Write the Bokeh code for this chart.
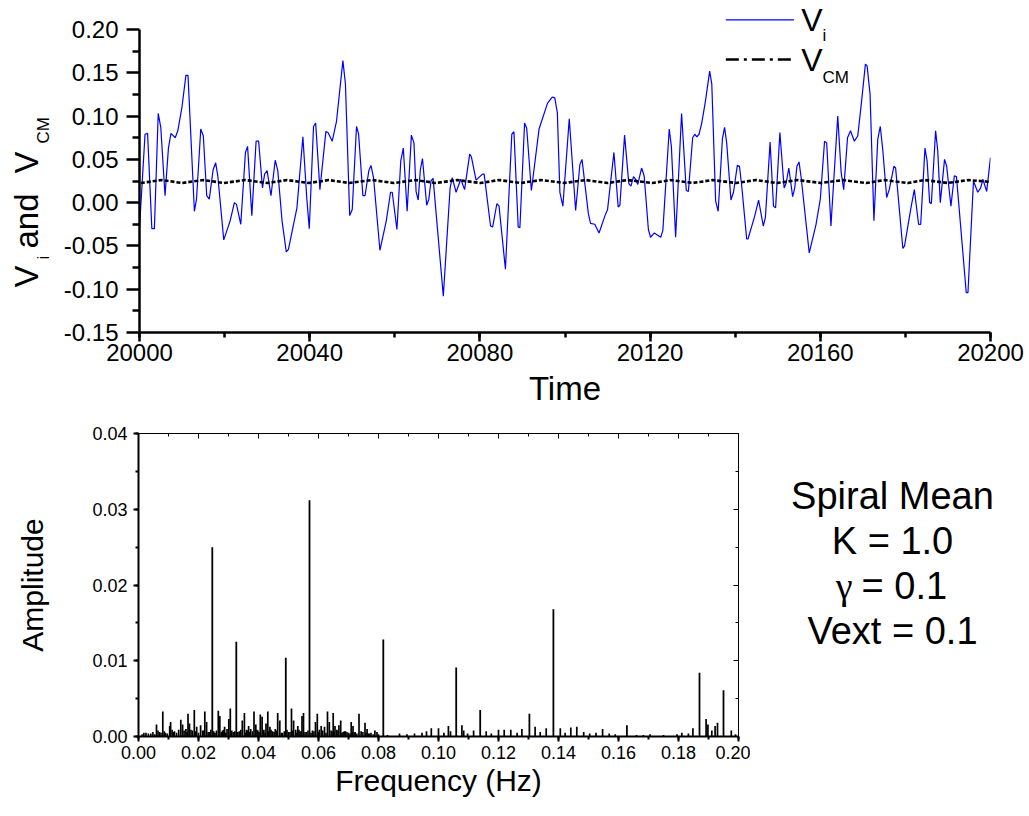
import numpy as np
from bokeh.plotting import figure
from bokeh.layouts import row
from bokeh.models import (Range1d, SingleIntervalTicker, FixedTicker, NumeralTickFormatter,
                          LinearAxis, ColumnDataSource)
from bokeh.core.properties import value
from bokeh.embed import file_html
from bokeh.resources import INLINE

FONT = "Liberation Sans"
SERIF = "Liberation Serif"

# ---------------- data: time series ----------------
TIME = [20000.0, 20001.3, 20001.9, 20002.9, 20003.5, 20004.4, 20005.0, 20006.0, 20006.8, 20007.4,
        20008.4, 20009.0, 20010.0, 20010.9, 20011.4, 20012.9, 20013.4, 20014.4, 20015.0, 20015.8,
        20016.4, 20017.3, 20017.9, 20018.4, 20019.8, 20021.3, 20022.3, 20022.8, 20023.8, 20024.9,
        20025.4, 20026.4, 20027.4, 20028.0, 20028.9, 20029.4, 20030.0, 20030.9, 20031.9, 20032.5,
        20033.5, 20034.5, 20035.0, 20037.0, 20038.4, 20039.3, 20039.9, 20040.9, 20041.4, 20042.4,
        20043.8, 20044.3, 20045.3, 20046.3, 20047.8, 20048.4, 20049.4, 20050.0, 20051.0, 20051.5,
        20052.5, 20053.0, 20053.9, 20054.4, 20055.0, 20056.5, 20058.0, 20059.0, 20059.4, 20060.5,
        20061.4, 20062.0, 20062.9, 20063.9, 20064.5, 20065.0, 20065.5, 20066.0, 20066.5, 20067.5,
        20068.0, 20068.5, 20069.0, 20071.4, 20073.0, 20073.5, 20074.4, 20075.5, 20076.4, 20077.6,
        20078.0, 20079.1, 20080.6, 20081.0, 20082.5, 20083.0, 20084.0, 20084.5, 20086.0, 20087.5,
        20088.0, 20089.0, 20089.4, 20090.5, 20091.0, 20092.1, 20093.9, 20095.9, 20097.0, 20097.6,
        20098.2, 20098.8, 20099.5, 20101.0, 20102.5, 20103.5, 20104.0, 20105.5, 20106.0, 20107.0,
        20108.0, 20109.4, 20110.0, 20111.5, 20112.5, 20112.9, 20114.0, 20115.0, 20115.5, 20116.1,
        20116.6, 20117.1, 20118.0, 20118.6, 20119.6, 20120.1, 20121.0, 20121.6, 20122.5, 20123.0,
        20124.5, 20125.0, 20126.0, 20127.4, 20128.5, 20129.0, 20130.0, 20130.5, 20131.0, 20131.5,
        20132.1, 20133.0, 20134.0, 20134.5, 20135.4, 20136.0, 20137.0, 20137.5, 20138.0, 20139.0,
        20139.6, 20140.5, 20141.0, 20141.5, 20142.7, 20143.0, 20144.5, 20145.5, 20146.6, 20147.1,
        20148.2, 20149.0, 20149.5, 20150.5, 20151.5, 20152.0, 20152.6, 20153.5, 20154.0, 20154.5,
        20155.0, 20155.5, 20157.4, 20159.0, 20160.0, 20161.0, 20161.5, 20162.5, 20164.1, 20164.9,
        20165.5, 20166.4, 20167.1, 20168.0, 20168.8, 20169.7, 20170.6, 20171.0, 20171.7, 20172.6,
        20173.5, 20174.1, 20174.7, 20175.6, 20176.2, 20177.3, 20177.7, 20178.2, 20179.4, 20179.8,
        20181.3, 20182.1, 20183.1, 20183.6, 20184.6, 20185.1, 20185.7, 20186.1, 20187.1, 20187.6,
        20188.2, 20189.2, 20189.7, 20190.7, 20191.5, 20192.0, 20194.3, 20194.7, 20196.0, 20197.0,
        20197.7, 20198.2, 20199.1, 20200.0]
V_I = [-0.029, 0.079, 0.080, -0.030, -0.030, 0.103, 0.087, 0.008, 0.063, 0.080,
       0.075, 0.083, 0.111, 0.147, 0.147, -0.010, 0.004, 0.085, 0.077, 0.008,
       0.004, 0.038, 0.046, 0.031, -0.043, -0.021, 0.000, -0.002, -0.025, 0.058,
       0.065, -0.015, 0.071, 0.071, 0.017, 0.033, 0.037, 0.008, 0.049, 0.037,
       -0.021, -0.057, -0.054, -0.006, 0.076, 0.006, -0.030, 0.088, 0.092, 0.015,
       0.082, 0.081, 0.071, 0.094, 0.164, 0.137, -0.015, -0.008, 0.088, 0.079,
       0.008, 0.008, 0.037, 0.043, 0.029, -0.055, -0.021, 0.012, 0.012, -0.031,
       0.048, 0.063, -0.010, 0.078, 0.069, 0.013, 0.003, 0.038, 0.051, -0.003,
       0.004, 0.025, 0.028, -0.108, 0.017, 0.029, 0.012, 0.027, 0.015, 0.056,
       0.053, 0.026, 0.033, 0.033, -0.027, -0.028, -0.001, -0.004, -0.077, 0.079,
       0.082, -0.028, -0.029, 0.092, 0.086, 0.014, 0.085, 0.115, 0.122, 0.121,
       0.104, 0.012, -0.004, 0.097, -0.009, 0.044, 0.050, -0.013, -0.024, -0.025,
       -0.035, -0.015, -0.008, 0.058, -0.005, -0.003, 0.078, 0.022, 0.019, 0.030,
       0.027, 0.021, 0.040, 0.031, -0.031, -0.040, -0.035, -0.037, -0.040, -0.032,
       0.085, 0.065, -0.040, 0.103, 0.014, 0.013, 0.075, 0.079, 0.076, 0.079,
       0.091, 0.117, 0.152, 0.137, 0.002, -0.010, 0.074, 0.087, 0.069, 0.003,
       0.012, 0.043, 0.042, 0.021, -0.042, -0.042, -0.017, 0.003, -0.027, -0.017,
       0.070, -0.004, -0.006, 0.081, 0.017, 0.023, 0.040, 0.007, 0.017, 0.042,
       0.047, 0.029, -0.058, -0.025, 0.004, 0.071, 0.069, -0.027, 0.100, 0.035,
       0.015, 0.075, 0.083, 0.071, 0.077, 0.117, 0.160, 0.158, 0.125, -0.021,
       0.073, 0.088, 0.060, 0.006, 0.015, 0.042, 0.040, 0.013, -0.053, -0.050,
       -0.006, 0.015, -0.025, -0.025, 0.063, 0.048, 0.000, -0.001, 0.083, 0.060,
       0.000, 0.050, 0.042, -0.004, 0.031, 0.030, -0.104, -0.104, 0.025, 0.012,
       0.017, 0.027, 0.013, 0.052]

T_CM = [20000.3, 20005.2, 20010.0, 20015.0, 20019.8, 20024.9, 20030.0, 20034.7, 20039.8, 20044.5,
        20049.3, 20054.7, 20059.8, 20064.9, 20069.6, 20074.7, 20080.2, 20084.5, 20089.6, 20094.3,
        20099.8, 20104.9, 20110.0, 20114.7, 20120.5, 20124.9, 20130.0, 20134.7, 20140.2, 20144.9,
        20149.8, 20154.7, 20160.2, 20165.3, 20170.8, 20175.1, 20180.6, 20184.5, 20190.0, 20194.7,
        20200.0]
V_CM = [0.0227, 0.0261, 0.0227, 0.0261, 0.0227, 0.0261, 0.0227, 0.0261, 0.0227, 0.0261,
        0.0227, 0.0261, 0.0227, 0.0261, 0.0227, 0.0261, 0.0227, 0.0261, 0.0227, 0.0261,
        0.0227, 0.0261, 0.0227, 0.0261, 0.0227, 0.0261, 0.0227, 0.0261, 0.0227, 0.0261,
        0.0227, 0.0261, 0.0227, 0.0261, 0.0227, 0.0261, 0.0227, 0.0261, 0.0227, 0.0261,
        0.0240]

Y_TICKS = [-0.15, -0.10, -0.05, 0.00, 0.05, 0.10, 0.15, 0.20]
Y_MINOR = [-0.125, -0.075, -0.025, 0.025, 0.075, 0.125, 0.175]

# ---------------- data: spectrum ----------------
PEAK_FREQ = [0.0246, 0.0326, 0.0491, 0.0570, 0.0816, 0.1059, 0.1139, 0.1303, 0.1383, 0.1628,
             0.1870, 0.1950]
PEAK_AMP = [0.0250, 0.0125, 0.0104, 0.0312, 0.0128, 0.0091, 0.0035, 0.0030, 0.0168, 0.0015,
            0.0084, 0.0061]
NOISE_FREQ = [0.0025, 0.0041, 0.0060, 0.0070, 0.0081, 0.0090, 0.0104, 0.0107, 0.0120, 0.0134,
              0.0141, 0.0147, 0.0158, 0.0165, 0.0170, 0.0180, 0.0186, 0.0194, 0.0207, 0.0214,
              0.0221, 0.0227, 0.0236, 0.0255, 0.0266, 0.0271, 0.0280, 0.0287, 0.0295, 0.0301,
              0.0306, 0.0316, 0.0336, 0.0346, 0.0353, 0.0360, 0.0367, 0.0374, 0.0385, 0.0391,
              0.0398, 0.0406, 0.0412, 0.0418, 0.0425, 0.0431, 0.0438, 0.0447, 0.0456, 0.0464,
              0.0471, 0.0480, 0.0500, 0.0510, 0.0517, 0.0524, 0.0531, 0.0538, 0.0545, 0.0550,
              0.0560, 0.0580, 0.0590, 0.0596, 0.0603, 0.0609, 0.0620, 0.0630, 0.0636, 0.0642,
              0.0649, 0.0655, 0.0661, 0.0668, 0.0674, 0.0682, 0.0690, 0.0700, 0.0709, 0.0715,
              0.0722, 0.0735, 0.0742, 0.0755, 0.0762, 0.0770, 0.0788, 0.0795, 0.0830, 0.0870,
              0.0895, 0.0920, 0.0945, 0.0960, 0.0976, 0.1000, 0.1018, 0.1033, 0.1040, 0.1078,
              0.1084, 0.1097, 0.1117, 0.1159, 0.1176, 0.1200, 0.1219, 0.1241, 0.1262, 0.1278,
              0.1322, 0.1339, 0.1359, 0.1406, 0.1422, 0.1441, 0.1461, 0.1484, 0.1504, 0.1525,
              0.1547, 0.1569, 0.1589, 0.1660, 0.1683, 0.1705, 0.1750, 0.1795, 0.1811, 0.1833,
              0.1848, 0.1892, 0.1898, 0.1911, 0.1922, 0.1930, 0.1976, 0.1990]
NOISE_AMP = [0.0005, 0.0004, 0.0016, 0.0006, 0.0033, 0.0005, 0.0014, 0.0019, 0.0007, 0.0009,
             0.0022, 0.0016, 0.0010, 0.0030, 0.0017, 0.0008, 0.0035, 0.0013, 0.0015, 0.0008,
             0.0033, 0.0019, 0.0006, 0.0005, 0.0034, 0.0027, 0.0008, 0.0013, 0.0010, 0.0023,
             0.0037, 0.0006, 0.0007, 0.0021, 0.0031, 0.0009, 0.0014, 0.0010, 0.0033, 0.0016,
             0.0008, 0.0029, 0.0026, 0.0009, 0.0017, 0.0033, 0.0013, 0.0007, 0.0010, 0.0031,
             0.0021, 0.0005, 0.0006, 0.0037, 0.0021, 0.0009, 0.0014, 0.0007, 0.0027, 0.0031,
             0.0006, 0.0008, 0.0019, 0.0030, 0.0009, 0.0014, 0.0013, 0.0033, 0.0019, 0.0008,
             0.0031, 0.0014, 0.0009, 0.0015, 0.0021, 0.0006, 0.0007, 0.0005, 0.0019, 0.0014,
             0.0006, 0.0030, 0.0007, 0.0018, 0.0010, 0.0004, 0.0008, 0.0006, 0.0002, 0.0004,
             0.0003, 0.0004, 0.0005, 0.0007, 0.0011, 0.0011, 0.0005, 0.0014, 0.0007, 0.0015,
             0.0008, 0.0004, 0.0008, 0.0007, 0.0004, 0.0009, 0.0009, 0.0009, 0.0005, 0.0010,
             0.0013, 0.0006, 0.0011, 0.0011, 0.0005, 0.0012, 0.0013, 0.0006, 0.0004, 0.0005,
             0.0010, 0.0004, 0.0003, 0.0002, 0.0002, 0.0003, 0.0002, 0.0003, 0.0005, 0.0004,
             0.0011, 0.0023, 0.0016, 0.0008, 0.0014, 0.0018, 0.0008, 0.0003]
# dense low-level floor below 0.08 Hz
FLOOR_FREQ = [0.0012, 0.0018, 0.0033, 0.0048, 0.0054, 0.0065, 0.0075, 0.0086, 0.0096, 0.0112,
              0.0116, 0.0127, 0.0152, 0.0162, 0.0175, 0.0190, 0.0200, 0.0218, 0.0232, 0.0241,
              0.0251, 0.0260, 0.0276, 0.0284, 0.0291, 0.0311, 0.0321, 0.0331, 0.0341, 0.0357,
              0.0364, 0.0371, 0.0380, 0.0395, 0.0402, 0.0415, 0.0422, 0.0434, 0.0442, 0.0452,
              0.0460, 0.0476, 0.0486, 0.0495, 0.0505, 0.0513, 0.0527, 0.0535, 0.0542, 0.0555,
              0.0565, 0.0575, 0.0585, 0.0600, 0.0614, 0.0625, 0.0645, 0.0652, 0.0665, 0.0678,
              0.0686, 0.0695, 0.0705, 0.0712, 0.0719, 0.0728, 0.0748, 0.0758, 0.0766, 0.0775,
              0.0782, 0.0800]
FLOOR_AMP = [0.0003, 0.0005, 0.0004, 0.0006, 0.0003, 0.0008, 0.0005, 0.0007, 0.0004, 0.0009,
             0.0006, 0.0005, 0.0008, 0.0006, 0.0009, 0.0007, 0.0005, 0.0008, 0.0006, 0.0009,
             0.0007, 0.0008, 0.0006, 0.0009, 0.0005, 0.0008, 0.0007, 0.0006, 0.0009, 0.0005,
             0.0008, 0.0006, 0.0007, 0.0009, 0.0006, 0.0008, 0.0005, 0.0007, 0.0009, 0.0006,
             0.0008, 0.0005, 0.0007, 0.0009, 0.0006, 0.0008, 0.0005, 0.0009, 0.0007, 0.0006,
             0.0008, 0.0005, 0.0007, 0.0006, 0.0008, 0.0005, 0.0007, 0.0006, 0.0008, 0.0005,
             0.0007, 0.0006, 0.0004, 0.0006, 0.0005, 0.0004, 0.0006, 0.0005, 0.0004, 0.0005,
             0.0003, 0.0003]

ANNOT_LINES = ["Spiral Mean", "K = 1.0", "\u03b3 = 0.1", "Vext = 0.1"]
GAMMA_ROW = 2   # the line whose leading symbol is drawn in a serif face


# ---------------- styling helpers ----------------
def style_axis(ax, font_size, line_w, tick_out, minor_out, standoff):
    ax.axis_line_width = line_w
    ax.axis_line_color = "black"
    ax.major_tick_line_width = line_w
    ax.minor_tick_line_width = line_w
    ax.major_tick_line_color = "black"
    ax.minor_tick_line_color = "black"
    ax.major_tick_out = tick_out
    ax.major_tick_in = 0
    ax.minor_tick_out = minor_out
    ax.minor_tick_in = 0
    ax.major_label_text_font = FONT
    ax.major_label_text_font_size = font_size
    ax.major_label_text_color = "black"
    ax.major_label_standoff = standoff
    ax.axis_label_text_font = FONT
    ax.axis_label_text_font_style = "normal"
    ax.axis_label_text_color = "black"


def text_panel(width, height, b_top, b_bottom, x0, y_top, y_bottom):
    """Axis-less panel whose data coordinates equal page pixels."""
    p = figure(width=width, height=height, x_range=Range1d(x0, x0 + width),
               y_range=Range1d(y_bottom, y_top), x_axis_type=None, y_axis_type=None,
               output_backend="svg", toolbar_location=None,
               min_border_left=0, min_border_right=0,
               min_border_top=b_top, min_border_bottom=b_bottom)
    p.outline_line_color = None
    return p


TOP_H, BOT_H = 413, 403
LAB_W = 58
TOP_BB = 81          # bottom border of the top plot
BOT_BT, BOT_BB = 20, 80

# ---------------- top: y-axis title panel ----------------
lab = text_panel(LAB_W, TOP_H, 0, TOP_BB, 0, 0, TOP_H - TOP_BB)
lab.text(x=[26, 26, 26], y=[287, 248, 173], text=["V", "and", "V"], angle=np.pi / 2,
         text_font=value(FONT), text_font_size="33px", text_align="left",
         text_baseline="alphabetic", text_color="black")
lab.text(x=[43, 43], y=[259, 143], text=["i", "CM"], angle=np.pi / 2,
         text_font=value(FONT), text_font_size="17px", text_align="left",
         text_baseline="alphabetic", text_color="black")

# ---------------- top: time series ----------------
top = figure(width=1029 - LAB_W, height=TOP_H, x_range=Range1d(20000, 20200),
             y_range=Range1d(-0.15, 0.2335), output_backend="svg", toolbar_location=None,
             min_border_left=81, min_border_right=39, min_border_top=0,
             min_border_bottom=TOP_BB)
top.outline_line_color = None
top.grid.visible = False
top.xaxis.ticker = SingleIntervalTicker(interval=40, num_minor_ticks=2)
top.yaxis.ticker = FixedTicker(ticks=Y_TICKS, minor_ticks=Y_MINOR)
top.xaxis.formatter = NumeralTickFormatter(format="0")
top.yaxis.formatter = NumeralTickFormatter(format="0.00")
top.yaxis.bounds = (Y_TICKS[0], Y_TICKS[-1])
style_axis(top.xaxis[0], "24px", 2.5, 9, 5, 2)
style_axis(top.yaxis[0], "24px", 2.5, 13, 7, 8)
top.xaxis.axis_label = "Time"
top.xaxis.axis_label_text_font_size = "33px"
top.xaxis.axis_label_standoff = 6

src_vi = ColumnDataSource(dict(t=TIME, v=V_I))
src_cm = ColumnDataSource(dict(t=T_CM, v=V_CM))
top.line("t", "v", source=src_vi, line_color="#0000ff", line_width=1.2)
top.line("t", "v", source=src_cm, line_color="black", line_width=2.6, line_dash="4 2")

# hand-drawn legend (sits above the end of the y axis)
LEG_X0, LEG_X1, LEG_TX, LEG_SX = 20137.8, 20153.8, 20155.5, 20160.5
top.line([LEG_X0, LEG_X1], [0.2112, 0.2112], line_color="#0000ff", line_width=1.2)
top.line([LEG_X0, LEG_X1], [0.1653, 0.1653], line_color="black", line_width=2.6,
         line_dash="13 5 3 5")
top.text(x=[LEG_TX, LEG_TX], y=[0.2112, 0.1650], text=["V", "V"], text_font=value(FONT),
         text_font_size="32px", text_align="left", text_baseline="alphabetic",
         text_color="black")
top.text(x=[LEG_SX, LEG_SX], y=[0.1926, 0.1441], text=["i", "CM"], text_font=value(FONT),
         text_font_size="17px", text_align="left", text_baseline="alphabetic",
         text_color="black")

# ---------------- bottom: spectrum ----------------
BOT_W = 750
bot = figure(width=BOT_W, height=BOT_H, x_range=Range1d(0, 0.2), y_range=Range1d(0, 0.04),
             output_backend="svg", toolbar_location=None,
             min_border_left=138, min_border_right=12, min_border_top=BOT_BT,
             min_border_bottom=BOT_BB)
bot.grid.visible = False
bot.outline_line_color = None
bot.xaxis.ticker = SingleIntervalTicker(interval=0.02, num_minor_ticks=2)
bot.yaxis.ticker = SingleIntervalTicker(interval=0.01, num_minor_ticks=2)
bot.xaxis.formatter = NumeralTickFormatter(format="0.00")
bot.yaxis.formatter = NumeralTickFormatter(format="0.00")
style_axis(bot.xaxis[0], "18px", 2, 5, 3, 4)
style_axis(bot.yaxis[0], "18px", 2, 5, 3, 6)
bot.xaxis.axis_label = "Frequency (Hz)"
bot.yaxis.axis_label = "Amplitude"
bot.xaxis.axis_label_text_font_size = "30px"
bot.yaxis.axis_label_text_font_size = "30px"
bot.xaxis.axis_label_standoff = 2
bot.yaxis.axis_label_standoff = 40

for side, tick in (("above", SingleIntervalTicker(interval=0.02, num_minor_ticks=2)),
                   ("right", SingleIntervalTicker(interval=0.01, num_minor_ticks=2))):
    ax = LinearAxis(ticker=tick)
    ax.axis_line_width = 1
    ax.major_tick_line_width = 1
    ax.minor_tick_line_width = 1
    ax.major_tick_in = 5
    ax.major_tick_out = 0
    ax.minor_tick_in = 3
    ax.minor_tick_out = 0
    ax.major_label_text_font_size = "0px"
    ax.major_label_text_color = None
    ax.major_label_standoff = 0
    bot.add_layout(ax, side)

src_floor = ColumnDataSource(dict(f=FLOOR_FREQ, a=FLOOR_AMP))
src_noise = ColumnDataSource(dict(f=NOISE_FREQ, a=NOISE_AMP))
src_peak = ColumnDataSource(dict(f=PEAK_FREQ, a=PEAK_AMP))
bot.segment(x0="f", y0=0, x1="f", y1="a", source=src_floor, line_color="black", line_width=1.6)
bot.segment(x0="f", y0=0, x1="f", y1="a", source=src_noise, line_color="black", line_width=1.7)
bot.segment(x0="f", y0=0, x1="f", y1="a", source=src_peak, line_color="black", line_width=1.8)

# ---------------- bottom right: parameter block ----------------
txt = text_panel(1029 - BOT_W, BOT_H, BOT_BT, BOT_BB, BOT_W, TOP_H + BOT_BT, TOP_H + BOT_H - BOT_BB)
ANNOT_X, ANNOT_Y0, ANNOT_DY = 892, 495, 45
plain = [i for i in range(len(ANNOT_LINES)) if i != GAMMA_ROW]
txt.text(x=[ANNOT_X] * len(plain), y=[ANNOT_Y0 + i * ANNOT_DY for i in plain],
         text=[ANNOT_LINES[i] for i in plain], text_font=value(FONT), text_font_size="38px",
         text_align="center", text_baseline="alphabetic", text_color="black")
sym, rest = ANNOT_LINES[GAMMA_ROW].split(" ", 1)
gy = ANNOT_Y0 + GAMMA_ROW * ANNOT_DY
txt.text(x=[852], y=[gy], text=[sym], text_font=value(SERIF), text_font_size="38px",
         text_align="right", text_baseline="alphabetic", text_color="black")
txt.text(x=[861], y=[gy], text=[rest], text_font=value(FONT), text_font_size="38px",
         text_align="left", text_baseline="alphabetic", text_color="black")

open("out.html", "w").write(file_html([row(lab, top), row(bot, txt)], INLINE))
